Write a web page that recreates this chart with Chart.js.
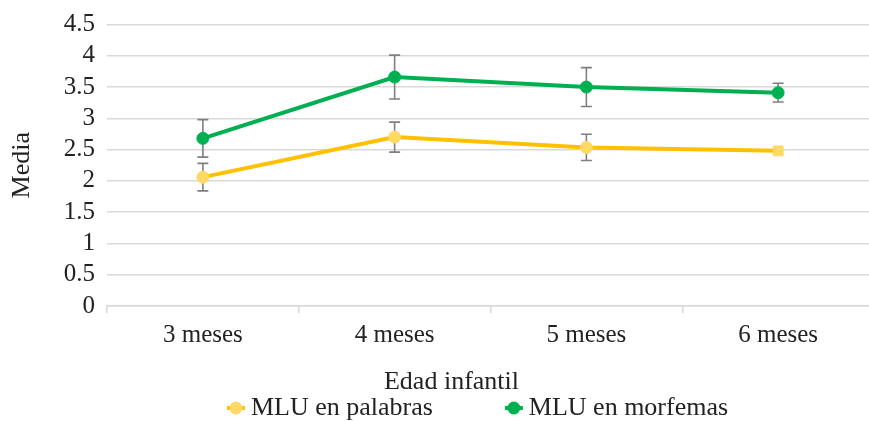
<!DOCTYPE html>
<html><head><meta charset="utf-8">
<script src="https://cdn.jsdelivr.net/npm/chart.js@4.4.1/dist/chart.umd.min.js"></script>
<style>
html,body{margin:0;padding:0;overflow:hidden;background:#fff;}
#wrap{position:relative;width:882px;height:421px;}
</style>
</head><body>
<div id="wrap"><canvas id="c"></canvas></div>
<script>
// ---- data ----
const categories = ['3 meses', '4 meses', '5 meses', '6 meses'];
const seriesNames = ['MLU en palabras', 'MLU en morfemas'];
const mluPalabras = [2.06, 2.70, 2.535, 2.48];
const mluPalabrasErr = [0.22, 0.24, 0.21, 0];
const mluMorfemas = [2.68, 3.66, 3.50, 3.41];
const mluMorfemasErr = [0.30, 0.35, 0.31, 0.15];
const yTickLabels = ['0', '0.5', '1', '1.5', '2', '2.5', '3', '3.5', '4', '4.5'];
const xAxisTitle = 'Edad infantil';
const yAxisTitle = 'Media';

// ---- styles ----
const FONT = "'Liberation Serif', 'Times New Roman', serif";
const TEXT = '#222222';
const GRID = '#d9d9d9';
const YELLOW_LINE = '#FFC000';
const YELLOW_MARK = '#FFD966';
const GREEN = '#00B050';
const ERR = '#7f7f7f';
const errorArrays = [mluPalabrasErr, mluMorfemasErr];

const LEG_BOX = 63;
const LEG_PAD = 20;
function makeIcon(lineColor, markColor) {
  const w = LEG_BOX + 16, h = 16;
  const c = document.createElement('canvas');
  c.width = w; c.height = h;
  const g = c.getContext('2d');
  g.strokeStyle = lineColor; g.lineWidth = 4;
  g.beginPath(); g.moveTo(w - 19, h / 2); g.lineTo(w - 1, h / 2); g.stroke();
  g.fillStyle = markColor;
  g.beginPath(); g.arc(w - 10, h / 2, 6.5, 0, Math.PI * 2); g.fill();
  return c;
}
const legendIcons = [makeIcon(YELLOW_LINE, YELLOW_MARK), makeIcon(GREEN, GREEN)];

const errorBars = {
  id: 'errorBars',
  beforeDatasetsDraw(chart) {
    const ctx = chart.ctx, y = chart.scales.y;
    ctx.save();
    ctx.strokeStyle = ERR; ctx.lineWidth = 1.6;
    chart.data.datasets.forEach((ds, di) => {
      const meta = chart.getDatasetMeta(di);
      const errs = errorArrays[di];
      meta.data.forEach((pt, i) => {
        const e = errs[i];
        if (!e) return;
        const yt = y.getPixelForValue(ds.data[i] + e);
        const yb = y.getPixelForValue(ds.data[i] - e);
        const x = pt.x;
        ctx.beginPath();
        ctx.moveTo(x, yt); ctx.lineTo(x, yb);
        ctx.moveTo(x - 5.5, yt); ctx.lineTo(x + 5.5, yt);
        ctx.moveTo(x - 5.5, yb); ctx.lineTo(x + 5.5, yb);
        ctx.stroke();
      });
    });
    ctx.restore();
  }
};

new Chart(document.getElementById('c'), {
  type: 'line',
  data: {
    labels: categories,
    datasets: [
      {
        label: seriesNames[0], data: mluPalabras,
        borderColor: YELLOW_LINE, backgroundColor: YELLOW_MARK, borderWidth: 4,
        pointStyle: ['circle', 'circle', 'circle', 'rect'],
        pointRadius: [6, 6, 6, 7], pointHoverRadius: [6, 6, 6, 7],
        pointBackgroundColor: YELLOW_MARK, pointBorderColor: YELLOW_MARK, pointBorderWidth: 1,
        tension: 0, fill: false
      },
      {
        label: seriesNames[1], data: mluMorfemas,
        borderColor: GREEN, backgroundColor: GREEN, borderWidth: 4,
        pointStyle: 'circle', pointRadius: 6, pointHoverRadius: 6,
        pointBackgroundColor: GREEN, pointBorderColor: GREEN, pointBorderWidth: 1,
        tension: 0, fill: false
      }
    ]
  },
  options: {
    responsive: true, maintainAspectRatio: false, animation: false, devicePixelRatio: 1,
    layout: { padding: { top: 24, left: 22, right: 1, bottom: -10 } },
    scales: {
      x: {
        offset: true,
        afterFit(s) { s.height = 44; },
        grid: { offset: true, drawOnChartArea: false, drawTicks: true, tickLength: 7, color: GRID, lineWidth: 1.5 },
        border: { display: true, color: GRID, width: 1.5 },
        ticks: { padding: 7, color: TEXT, font: { family: FONT, size: 25 }, maxRotation: 0, autoSkip: false }
      },
      y: {
        min: 0, max: 4.5,
        afterFit(s) { s.width = 85; },
        grid: { color: GRID, lineWidth: 1.5, drawTicks: false },
        border: { display: false },
        ticks: {
          stepSize: 0.5, maxTicksLimit: 20, autoSkip: false, padding: 12, color: TEXT,
          font: { family: FONT, size: 25, lineHeight: 1 },
          callback: (v) => yTickLabels[Math.round(v / 0.5)]
        },
        title: { display: true, text: yAxisTitle, color: TEXT, font: { family: FONT, size: 26, lineHeight: 1 }, padding: { top: -13, bottom: 0 } }
      }
    },
    plugins: {
      tooltip: { enabled: false },
      title: {
        display: true, text: xAxisTitle, position: 'bottom', fullSize: true, weight: 500,
        color: TEXT, font: { family: FONT, size: 26, weight: 'normal', lineHeight: 1 },
        padding: { top: 19, bottom: -LEG_PAD }
      },
      legend: {
        display: true, position: 'bottom', fullSize: true, weight: 1000,
        labels: {
          usePointStyle: true, pointStyleWidth: LEG_BOX, boxHeight: 14, padding: LEG_PAD,
          color: TEXT, font: { family: FONT, size: 26 },
          generateLabels(chart) {
            const items = Chart.defaults.plugins.legend.labels.generateLabels(chart);
            items.forEach((it, i) => { it.pointStyle = legendIcons[i]; });
            return items;
          }
        }
      }
    }
  },
  plugins: [errorBars]
});
</script>
</body></html>
